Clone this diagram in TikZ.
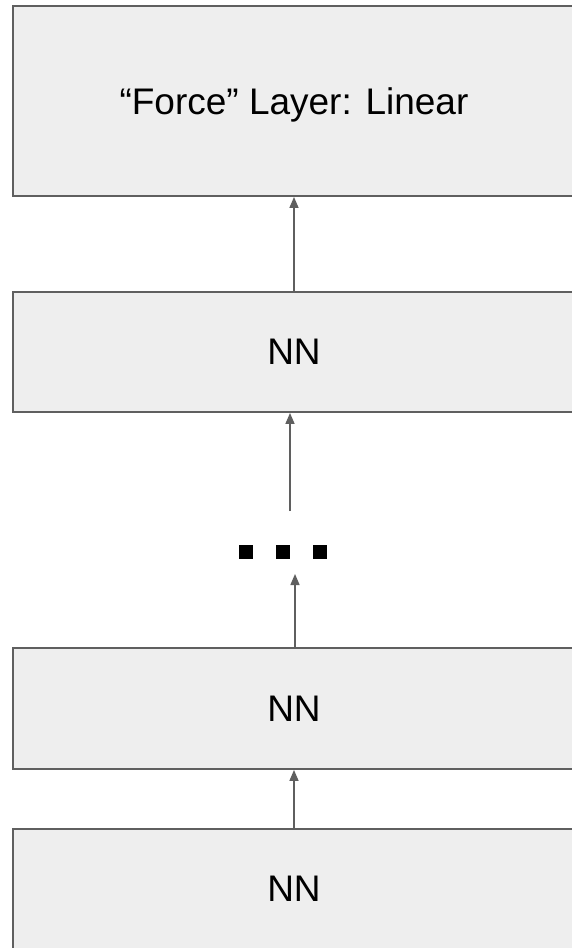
\documentclass[tikz,border=0pt]{standalone}
\usepackage{fontspec}
\setmainfont{Liberation Sans}
\usetikzlibrary{arrows.meta}
\definecolor{boxfill}{HTML}{EEEEEE}
\definecolor{boxline}{HTML}{5F5F5F}
\definecolor{arrcol}{HTML}{5F5F5F}
\begin{document}
\begin{tikzpicture}[x=1pt,y=-1pt,
  layerbox/.style={draw=boxline,fill=boxfill,line width=1.9pt,minimum width=562pt,inner sep=0pt,font=\fontsize{37}{44}\selectfont},
  arr/.style={draw=arrcol,line width=1.5pt,-{Triangle[length=11pt,width=9pt]}},
  dotsq/.style={fill=black,minimum size=14pt,inner sep=0pt}]
\useasboundingbox[fill=white] (0,0) rectangle (571,948);
\node[layerbox,minimum height=190pt,text depth=-2.5pt] (b1) at (294,101) {“Force” Layer: Linear};
\node[layerbox,minimum height=120pt] (b2) at (294,352) {NN};
\node[layerbox,minimum height=121pt] (b3) at (294,708.5) {NN};
\node[layerbox,minimum height=120pt] (b4) at (294,889) {NN};
\node[dotsq] (s1) at (246,552) {};
\node[dotsq] (s2) at (283,552) {};
\node[dotsq] (s3) at (320,552) {};
\coordinate (d2) at (290,511);
\coordinate (d3) at (295,574);
\draw[arr] (b2.north) -- (b1.south);
\draw[arr] (d2) -- (d2 |- b2.south);
\draw[arr] (d3 |- b3.north) -- (d3);
\draw[arr] (b4.north) -- (b3.south);
\end{tikzpicture}
\end{document}
